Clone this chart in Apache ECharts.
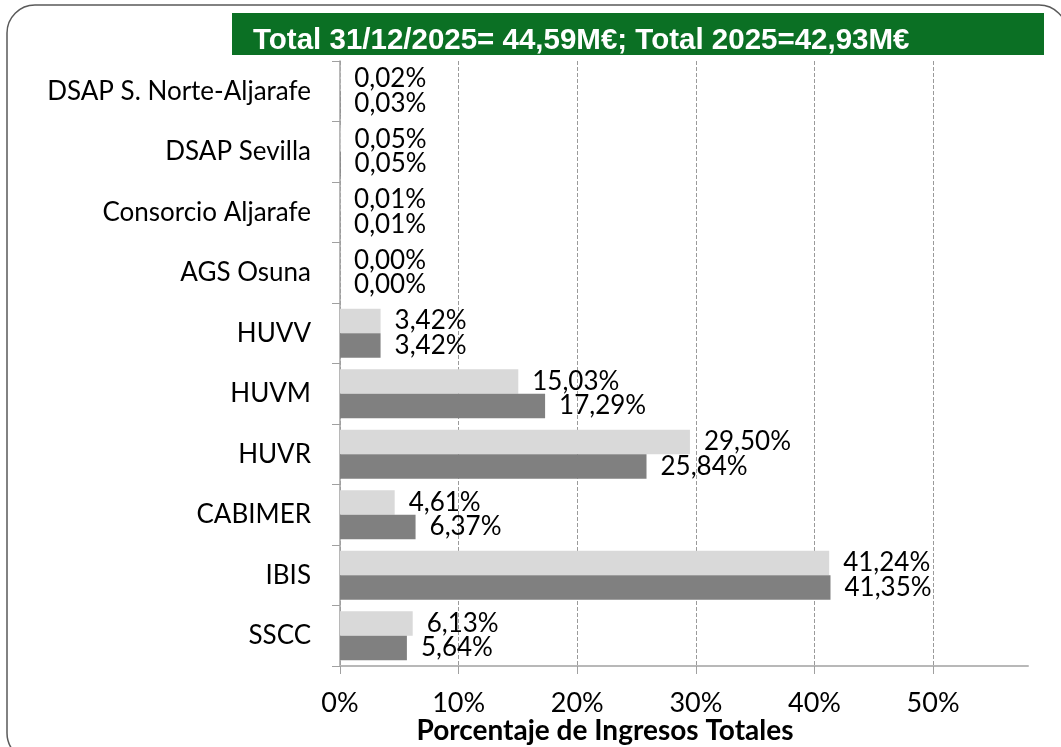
<!DOCTYPE html>
<html>
<head>
<meta charset="utf-8">
<script src="https://cdn.jsdelivr.net/npm/echarts@6/dist/echarts.min.js"></script>
<style>
  html, body { margin: 0; padding: 0; background: #fff; }
  #chart { width: 1061px; height: 747px; }
</style>
</head>
<body>
<div id="chart"></div>
<script>
// categorias de arriba a abajo
const categories = ['DSAP S. Norte-Aljarafe', 'DSAP Sevilla', 'Consorcio Aljarafe', 'AGS Osuna',
  'HUVV', 'HUVM', 'HUVR', 'CABIMER', 'IBIS', 'SSCC']
const lightValues = [0.02, 0.05, 0.01, 0.00, 3.42, 15.03, 29.50, 4.61, 41.24, 6.13]
const darkValues = [0.03, 0.05, 0.01, 0.00, 3.42, 17.29, 25.84, 6.37, 41.35, 5.64]
const xTicks = [0, 10, 20, 30, 40, 50]
const titleText = 'Total 31/12/2025= 44,59M€; Total 2025=42,93M€'
const axisTitle = 'Porcentaje de Ingresos Totales'

const font = 'Lato'
const pct = v => v.toFixed(2).replace('.', ',') + '%'

const chart = echarts.init(document.getElementById('chart'))

const barLabel = {
  show: true,
  position: 'right',
  distance: 14,
  color: '#000',
  fontFamily: font,
  fontSize: 26,
  formatter: p => pct(p.value)
}

chart.setOption({
  animation: false,
  title: {
    text: titleText,
    left: 253,
    top: 26,
    padding: 0,
    textStyle: {
      color: '#fff',
      fontFamily: 'Liberation Sans',
      fontWeight: 'bold',
      fontSize: 29.5,
      lineHeight: 29
    }
  },
  graphic: [
    {
      type: 'rect',
      z: -10,
      shape: { x: 7, y: 5, width: 1060, height: 756, r: 28 },
      style: { fill: 'none', stroke: '#5a5a5a', lineWidth: 1.5 }
    },
    {
      type: 'rect',
      z: -5,
      shape: { x: 232, y: 13, width: 812, height: 42 },
      style: { fill: '#0b7024' }
    }
  ],
  grid: {
    left: 340,
    right: 33,
    top: 61,
    bottom: 81,
    outerBoundsMode: 'none'
  },
  xAxis: {
    type: 'value',
    min: 0,
    max: 58,
    interval: 10,
    name: axisTitle,
    nameLocation: 'middle',
    nameGap: 51,
    nameMoveOverlap: false,
    nameTextStyle: {
      color: '#000',
      fontFamily: font,
      fontSize: 28,
      fontWeight: 'bold',
      padding: [0, 158, 0, 0]
    },
    axisLine: { show: true, lineStyle: { color: '#b8b8b8', width: 2 } },
    axisTick: { show: true, length: 8, customValues: xTicks, lineStyle: { color: '#a0a0a0' } },
    axisLabel: {
      customValues: xTicks,
      margin: 24,
      color: '#000',
      fontFamily: font,
      fontSize: 27,
      formatter: v => v + '%'
    },
    splitLine: { show: true, lineStyle: { color: '#9a9a9a', type: [4, 2], width: 1 } }
  },
  yAxis: {
    type: 'category',
    inverse: true,
    data: categories,
    axisLine: { lineStyle: { color: '#a0a0a0', width: 1.5 } },
    axisTick: { show: true, length: 8, lineStyle: { color: '#a0a0a0' } },
    axisLabel: {
      margin: 29,
      color: '#000',
      fontFamily: font,
      fontSize: 26
    }
  },
  series: [
    {
      name: 'Serie 1',
      type: 'bar',
      data: lightValues,
      barGap: 0,
      barCategoryGap: '19%',
      itemStyle: { color: '#d9d9d9' },
      label: barLabel
    },
    {
      name: 'Serie 2',
      type: 'bar',
      data: darkValues,
      barGap: 0,
      barCategoryGap: '19%',
      itemStyle: { color: '#808080' },
      label: barLabel
    }
  ]
})
</script>
</body>
</html>
